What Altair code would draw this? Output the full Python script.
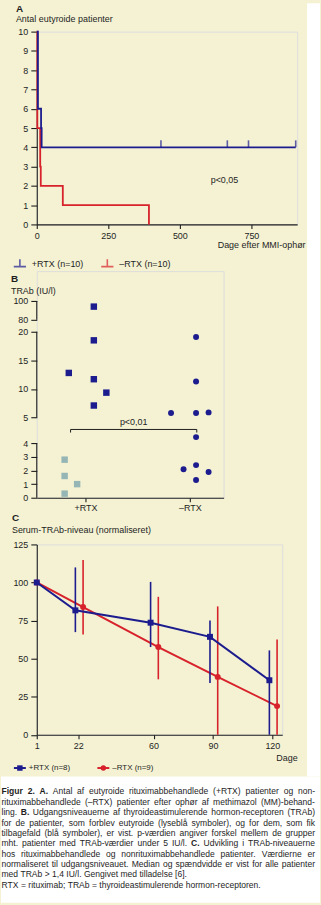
import re
import altair as alt
import pandas as pd

# ---------------- style ----------------
BG = "#F4F2D3"
BLUE = "#1C1C8E"
RED = "#D8222B"
LIGHT = "#95B6B5"
INK = "#1E1E1E"
FONT = "Liberation Sans"
FS = 9

# ---------------- panel A data ----------------
A_GROUPS = ["+RTX (n=10)", "–RTX (n=10)"]
a_plus_day = [0, 4, 15, 17, 905]
a_plus_n = [10, 6, 5, 4, 4]
a_minus_day = [0, 2, 12, 14, 91, 392]
a_minus_n = [10, 5, 3, 2, 1, 0]
a_censor_day = [434, 666, 740, 905]
a_xticks = [0, 250, 500, 750]
a_yticks = list(range(0, 11))
a_p_label = "p<0,05"

# ---------------- panel B data ----------------
B_GROUPS = ["+RTX", "–RTX"]
b_plus_relapse = [94, 18.5, 12.8, 11.7, 9.35, 7.1]
b_plus_relapse_jitter = [0.08, 0.08, -0.16, 0.08, 0.2, 0.08]
b_plus_euthyroid = [2.8, 1.6, 1.0, 0.3]
b_plus_euthyroid_jitter = [-0.2, -0.2, -0.08, -0.2]
b_minus_relapse = [19.1, 11.3, 5.8, 5.8, 5.9, 4.46, 2.4, 2.1, 1.9, 1.3]
b_minus_relapse_jitter = [0.06, 0.06, -0.18, 0.06, 0.18, 0.06, 0.06, -0.06, 0.18, 0.06]
b_yticks = [0, 1, 2, 3, 4, 5, 10, 15, 20, 80, 100]
b_axis_lo = [0, 5, 80]
b_axis_hi = [4, 20, 100]
b_scale_domain = [0, 4.6, 5, 20, 80, 100]
b_p_label = "p<0,01"

# ---------------- panel C data ----------------
C_GROUPS = ["+RTX (n=8)", "–RTX (n=9)"]
c_day = [1, 22, 60, 90, 120]
c_plus_median = [100, 81.7, 73.6, 64.3, 35.8]
c_plus_min = [100, 67.4, 57.6, 34.0, 0]
c_plus_max = [100, 109.9, 100.4, 75.0, 55.4]
c_minus_median = [100, 83.9, 57.6, 38.0, 18.8]
c_minus_min = [100, 65.8, 36.4, 0, 0]
c_minus_max = [100, 114.8, 90.6, 84.3, 62.5]
c_yticks = [0, 25, 50, 75, 100, 125]

caption_lines = [
    "**Figur 2. A.** Antal af eutyroide rituximabbehandlede (+RTX) patienter og non-",
    "rituximabbehandlede (–RTX) patienter efter ophør af methimazol (MM)-behand-",
    "ling. **B.** Udgangsniveauerne af thyroideastimulerende hormon-receptoren (TRAb)",
    "for de patienter, som forblev eutyroide (lyseblå symboler), og for dem, som fik",
    "tilbagefald (blå symboler), er vist. p-værdien angiver forskel mellem de grupper",
    "mht. patienter med TRAb-værdier under 5 IU/l. **C.** Udvikling i TRAb-niveauerne",
    "hos rituximabbehandlede og nonrituximabbehandlede patienter. Værdierne er",
    "normaliseret til udgangsniveauet. Median og spændvidde er vist for alle patienter",
    "med TRAb > 1,4 IU/l. Gengivet med tilladelse [6].",
    "RTX = rituximab; TRAb = thyroideastimulerende hormon-receptoren.",
]
caption_justified_rows = 8

# ---------------- helpers ----------------
def ax(**kw):
    base = dict(title=None, grid=False, tickSize=5, tickColor=INK, tickWidth=1.1,
                domainColor=INK, domainWidth=1.1, labelColor=INK, labelFontSize=FS,
                labelFont=FONT, labelPadding=3, labelOverlap=False, labelFlush=False,
                titleFont=FONT, titleColor=INK, titleFontSize=FS, titleFontWeight="normal")
    base.update(kw)
    return alt.Axis(**base)


def ptitle(letter, sub, dx, offset, pad, dy=0):
    return alt.TitleParams(text=letter, subtitle=sub, anchor="start", frame="group",
                           dx=dx, dy=dy, offset=offset, font=FONT, fontSize=10,
                           fontWeight="bold", color=INK, subtitleFont=FONT,
                           subtitleFontSize=FS, subtitleColor=INK, subtitlePadding=pad)


ONE = alt.Data(values=[{}])

# ================= PANEL A =================
dfA = pd.concat([
    pd.DataFrame({"day": a_plus_day, "n": a_plus_n, "grp": A_GROUPS[0]}),
    pd.DataFrame({"day": a_minus_day, "n": a_minus_n, "grp": A_GROUPS[1]}),
])
dfA_cens = pd.DataFrame({"day": a_censor_day, "n": [a_plus_n[-1]] * len(a_censor_day),
                         "grp": A_GROUPS[0]})

xA_scale = alt.Scale(domain=[0, 910], nice=False, zero=False)
xA_axis = ax(values=a_xticks, tickSize=4, labelPadding=3, title="Dage efter MMI-ophør",
             titleAlign="right", titleX=270, titleY=20, titleBaseline="middle")
yA_scale = alt.Scale(domain=[0, 10], nice=False)
yA_axis = ax(values=a_yticks, tickSize=6)
xA = alt.X("day:Q", scale=xA_scale, axis=xA_axis)
yA = alt.Y("n:Q", scale=yA_scale, axis=yA_axis)
colA = alt.Color("grp:N", scale=alt.Scale(domain=A_GROUPS, range=[BLUE, RED]),
                 legend=alt.Legend(orient="none", legendX=-24, legendY=226,
                                   direction="horizontal", title=None,
                                   symbolType="M-1,0.5H1M0,0.5V-0.7", symbolSize=150,
                                   symbolStrokeWidth=1.6, labelFontSize=FS, labelFont=FONT,
                                   labelColor=INK, labelOffset=5, columnPadding=14))

baseA = alt.Chart(dfA)
lineA_red = baseA.transform_filter(alt.datum.grp == A_GROUPS[1]).mark_line(
    interpolate="step-after", strokeWidth=1.8).encode(x=xA, y=yA, color=colA)
lineA_blue = baseA.transform_filter(alt.datum.grp == A_GROUPS[0]).mark_line(
    interpolate="step-after", strokeWidth=1.8).encode(x=xA, y=yA, color=colA)
censA = alt.Chart(dfA_cens).mark_tick(orient="vertical", size=7, thickness=1.6,
                                      yOffset=-3.5).encode(x=xA, y=yA, color=colA)
pA = alt.Chart(ONE).mark_text(font=FONT, fontSize=FS, color=INK).encode(
    x=alt.XDatum(656, scale=xA_scale, axis=xA_axis),
    y=alt.YDatum(2.3, scale=yA_scale, axis=yA_axis),
    text=alt.value(a_p_label))

panelA = alt.layer(lineA_red, lineA_blue, censA, pA).properties(
    width=262, height=194, title=ptitle("A", "Antal eutyroide patienter", -21, 4, 1))

# ================= PANEL B =================
rowsB = []
for v, j in zip(b_plus_relapse, b_plus_relapse_jitter):
    rowsB.append(dict(val=v, pos=1 + j, grp=B_GROUPS[0], kind="relapse"))
for v, j in zip(b_plus_euthyroid, b_plus_euthyroid_jitter):
    rowsB.append(dict(val=v, pos=1 + j, grp=B_GROUPS[0], kind="euthyroid"))
for v, j in zip(b_minus_relapse, b_minus_relapse_jitter):
    rowsB.append(dict(val=v, pos=2 + j, grp=B_GROUPS[1], kind="relapse"))
dfB = pd.DataFrame(rowsB)
dfB_axis = pd.DataFrame({"lo": b_axis_lo, "hi": b_axis_hi})

xB_scale = alt.Scale(domain=[0.533, 2.324], nice=False, zero=False)
yB_scale = alt.Scale(type="linear", domain=b_scale_domain,
                     range=[228, 165.1, 147.3, 61, 49, 30], nice=False, zero=False)
xB_axis = ax(values=[1, 2], labelExpr="datum.value == 1 ? '+RTX' : '–RTX'",
             tickSize=4, labelPadding=2)
yB_axis = ax(values=b_yticks, domain=False, tickSize=6)

ptsB = alt.Chart(dfB).mark_point(filled=True, opacity=1).encode(
    x=alt.X("pos:Q", scale=xB_scale, axis=xB_axis),
    y=alt.Y("val:Q", scale=yB_scale, axis=yB_axis),
    color=alt.Color("kind:N", scale=alt.Scale(domain=["relapse", "euthyroid"],
                                              range=[BLUE, LIGHT]), legend=None),
    shape=alt.Shape("grp:N", scale=alt.Scale(domain=B_GROUPS, range=["square", "circle"]),
                    legend=None),
    size=alt.Size("grp:N", scale=alt.Scale(domain=B_GROUPS, range=[42, 36]), legend=None),
)
axisB = alt.Chart(dfB_axis).mark_rule(color=INK, strokeWidth=1.1).encode(
    x=alt.value(0), y=alt.Y("lo:Q", scale=yB_scale, axis=yB_axis), y2="hi:Q")

br_left, br_right, br_y, br_tick = 0.857, 2.067, 4.73, 4.66
bracket_h = alt.Chart(ONE).mark_rule(color=INK, strokeWidth=1).encode(
    x=alt.XDatum(br_left, scale=xB_scale, axis=xB_axis), x2=alt.X2Datum(br_right),
    y=alt.YDatum(br_y, scale=yB_scale, axis=yB_axis))
bracket_v = alt.Chart(pd.DataFrame({"p": [br_left, br_right]})).mark_rule(
    color=INK, strokeWidth=1).encode(
    x=alt.X("p:Q", scale=xB_scale, axis=xB_axis),
    y=alt.YDatum(br_y, scale=yB_scale, axis=yB_axis), y2=alt.Y2Datum(br_tick))
pB = alt.Chart(ONE).mark_text(font=FONT, fontSize=FS, color=INK, dy=-7).encode(
    x=alt.XDatum((br_left + br_right) / 2, scale=xB_scale, axis=xB_axis),
    y=alt.YDatum(br_y, scale=yB_scale, axis=yB_axis),
    text=alt.value(b_p_label))

panelB = alt.layer(axisB, bracket_h, bracket_v, pB, ptsB).properties(
    width=188, height=228, title=ptitle("B", "TRAb (IU/l)", -26, 4, 3.5, dy=29))

# ================= PANEL C =================
rowsC = []
for g, med, lo, hi in [(C_GROUPS[0], c_plus_median, c_plus_min, c_plus_max),
                       (C_GROUPS[1], c_minus_median, c_minus_min, c_minus_max)]:
    for d, m, l, h in zip(c_day, med, lo, hi):
        rowsC.append(dict(day=d, grp=g, med=m, lo=l, hi=h))
dfC = pd.DataFrame(rowsC)

xC = alt.X("xp:Q", scale=alt.Scale(domain=[1, 125], nice=False, zero=False),
           axis=ax(values=c_day, format="d", tickSize=4, labelPadding=3, title="Dage",
                   titleAlign="right", titleX=262, titleY=23, titleBaseline="middle"))
yC_scale = alt.Scale(domain=[0, 125], nice=False)
yC_axis = ax(values=c_yticks, tickSize=6)
colC = alt.Color("grp:N", scale=alt.Scale(domain=C_GROUPS, range=[BLUE, RED]), legend=None)

baseC = alt.Chart(dfC).transform_calculate(
    xp="datum.day > 1 ? datum.day + (datum.grp === '" + C_GROUPS[0] + "' ? -1.5 : 2.4) : datum.day")

layersC = []
for g, shp in [(C_GROUPS[1], "circle"), (C_GROUPS[0], "square")]:
    bg = baseC.transform_filter(alt.datum.grp == g)
    layersC.append(bg.mark_rule(strokeWidth=1.6).encode(
        x=xC, y=alt.Y("lo:Q", scale=yC_scale, axis=yC_axis), y2="hi:Q", color=colC))
    layersC.append(bg.mark_line(strokeWidth=2).encode(
        x=xC, y=alt.Y("med:Q", scale=yC_scale, axis=yC_axis), color=colC))
    layersC.append(bg.mark_point(filled=True, opacity=1, shape=shp, size=36).encode(
        x=xC, y=alt.Y("med:Q", scale=yC_scale, axis=yC_axis), color=colC))

# manual legend for C (line + marker symbols)
LEG_Y = 225
legC = []
for (g, col, shp, x0) in [(C_GROUPS[0], BLUE, "square", -23), (C_GROUPS[1], RED, "circle", 61)]:
    legC.append(alt.Chart(ONE).mark_rule(color=col, strokeWidth=2).encode(
        x=alt.value(x0), x2=alt.value(x0 + 12), y=alt.value(LEG_Y)))
    legC.append(alt.Chart(ONE).mark_point(color=col, filled=True, opacity=1, shape=shp,
                                          size=30).encode(
        x=alt.value(x0 + 6), y=alt.value(LEG_Y)))
    legC.append(alt.Chart(ONE).mark_text(align="left", baseline="middle", font=FONT,
                                         fontSize=8, color=INK).encode(
        x=alt.value(x0 + 15), y=alt.value(LEG_Y), text=alt.value(g)))

panelC = alt.layer(*layersC, *legC).properties(
    width=247, height=191.5,
    title=ptitle("C", "Serum-TRAb-niveau (normaliseret)", -25, 5, 3.5))

# ================= CAPTION =================
W_REG = {" ": 278, "!": 278, "(": 333, ")": 333, "+": 584, ",": 278, "-": 333, ".": 278,
         "/": 278, ":": 278, ";": 278, "<": 584, "=": 584, ">": 584, "[": 278, "]": 278,
         "A": 667, "B": 667, "C": 722, "D": 722, "E": 667, "F": 611, "G": 778, "H": 722,
         "I": 278, "J": 500, "K": 667, "L": 556, "M": 833, "N": 722, "O": 778, "P": 667,
         "Q": 778, "R": 722, "S": 667, "T": 611, "U": 722, "V": 667, "W": 944, "X": 667,
         "Y": 667, "Z": 611, "a": 556, "b": 556, "c": 500, "d": 556, "e": 556, "f": 278,
         "g": 556, "h": 556, "i": 222, "j": 222, "k": 500, "l": 222, "m": 833, "n": 556,
         "o": 556, "p": 556, "q": 556, "r": 333, "s": 500, "t": 278, "u": 556, "v": 500,
         "w": 722, "x": 500, "y": 500, "z": 500, "æ": 889, "ø": 611, "å": 556, "–": 556}
W_BOLD = {" ": 278, ".": 278, "A": 722, "B": 722, "C": 722, "F": 611, "i": 278, "g": 611,
          "u": 611, "r": 389}
CAP_FS = 8.6
CAP_LEFT = -35.5
CAP_RIGHT = 280.0


def tw(s, bold=False):
    tab = W_BOLD if bold else W_REG
    return sum(tab.get(ch, W_REG.get(ch, 556)) for ch in s) * CAP_FS / 1000.0


capRows = []
for r, line in enumerate(caption_lines):
    words = []
    for part in re.split(r"(\*\*.*?\*\*)", line):
        if not part:
            continue
        bold = part.startswith("**")
        txt = part.strip("*") if bold else part
        for w in txt.split():
            words.append((w, bold))
    widths = [tw(w, b) for w, b in words]
    if r < caption_justified_rows and len(words) > 1:
        gap = (CAP_RIGHT - CAP_LEFT - sum(widths)) / (len(words) - 1)
    else:
        gap = tw(" ")
    x = CAP_LEFT
    for (w, b), wd in zip(words, widths):
        capRows.append(dict(row=r, x=x, word=w, bold=b))
        x += wd + gap
dfCap = pd.DataFrame(capRows)

yCap = alt.Y("row:Q", scale=alt.Scale(domain=[0, 9], range=[9.5, 103.5]), axis=None)
capNormal = alt.Chart(dfCap).transform_filter("!datum.bold").mark_text(
    align="left", baseline="middle", font=FONT, fontSize=CAP_FS, color=INK).encode(
    x=alt.X("x:Q", scale=None, axis=None), y=yCap, text="word:N")
capBold = alt.Chart(dfCap).transform_filter("datum.bold").mark_text(
    align="left", baseline="middle", font=FONT, fontSize=CAP_FS, fontWeight="bold",
    color=INK).encode(x=alt.X("x:Q", scale=None, axis=None), y=yCap, text="word:N")

white_bottom = alt.Chart(ONE).mark_rect(color="white").encode(
    x=alt.value(-36), x2=alt.value(285), y=alt.value(-5.5), y2=alt.value(121.5))
white_right = alt.Chart(ONE).mark_rect(color="white").encode(
    x=alt.value(272), x2=alt.value(285), y=alt.value(-783.5), y2=alt.value(-5.5))

caption = alt.layer(white_bottom, white_right, capNormal, capBold).properties(
    width=247, height=100)

chart = alt.vconcat(panelA, panelB, panelC, caption, spacing=47, bounds="flush").resolve_scale(
    color="independent", shape="independent", size="independent",
    x="independent", y="independent"
).properties(padding=0, background=BG).configure_view(stroke=None).configure(font=FONT)

chart.save("out.html", embed_options={"renderer": "svg", "actions": False})
